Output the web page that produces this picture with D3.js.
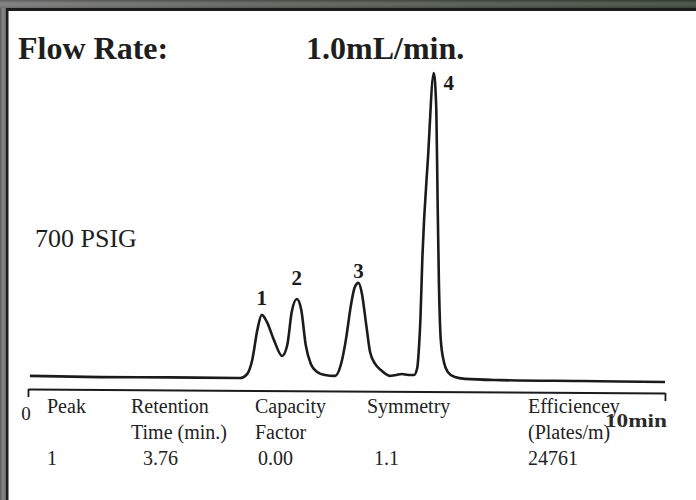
<!DOCTYPE html>
<html>
<head>
<meta charset="utf-8">
<script src="https://cdn.jsdelivr.net/npm/d3@7"></script>
<style>
  html, body { margin: 0; padding: 0; background: #fff; }
  svg { display: block; }
</style>
</head>
<body>
<svg id="chart" width="696" height="500"></svg>
<script>
// ---- data ----
const times  = [0.03, 1.13, 2.23, 3.33, 3.44, 3.52, 3.60, 3.67, 3.75, 3.86, 3.99, 4.07, 4.14, 4.22, 4.29, 4.36, 4.44, 4.54, 4.66, 4.82, 4.93, 4.99, 5.07, 5.13, 5.19, 5.24, 5.31, 5.37, 5.45, 5.54, 5.68, 5.78, 5.87, 5.97, 6.06, 6.11, 6.14, 6.16, 6.19, 6.28, 6.37, 6.41, 6.43, 6.45, 6.48, 6.53, 6.59, 6.70, 6.86, 7.41, 8.67, 10.0];
const signal = [0.7, 0.3, 0.2, 0.0, 1.3, 5.9, 15.7, 20.7, 18.4, 12.5, 7.2, 10.8, 21.6, 25.9, 22.3, 10.8, 4.6, 2.0, 1.0, 0.7, 5.9, 12.5, 23.9, 29.8, 31.2, 27.9, 17.4, 8.5, 4.6, 2.6, 0.7, 1.0, 1.3, 1.0, 1.0, 3.3, 10.8, 19.0, 38.7, 72.5, 100.0, 87.9, 58.4, 32.1, 12.5, 5.2, 2.0, 0.3, -0.3, -0.7, -1.0, -1.3];

const peakNumbers = ["1", "2", "3", "4"];
const peakTimes   = [3.67, 4.22, 5.19, 6.37];
const peakHeights = [20.7, 25.9, 31.2, 100.0];

const axisTicks = [0, 10];
const axisStartLabel = "0";
const axisEndLabel = "10min";

const titleLabel = "Flow Rate:";
const titleValue = "1.0mL/min.";
const pressureLabel = "700 PSIG";

const tableHeaders1 = ["Peak", "Retention", "Capacity", "Symmetry", "Efficiencey"];
const tableHeaders2 = ["", "Time (min.)", "Factor", "", "(Plates/m)"];
const tableValues   = ["1", "3.76", "0.00", "1.1", "24761"];

// ---- layout ----
const svg = d3.select("#chart");
const W = 696, H = 500;

const defs = svg.append("defs");
const gTop = defs.append("linearGradient").attr("id", "gTop").attr("x1", 0).attr("x2", 1).attr("y1", 0).attr("y2", 0);
gTop.append("stop").attr("offset", "0%").attr("stop-color", "#7a7a7a");
gTop.append("stop").attr("offset", "35%").attr("stop-color", "#5e625c");
gTop.append("stop").attr("offset", "100%").attr("stop-color", "#3e4a3b");
const gTopV = defs.append("linearGradient").attr("id", "gTopV").attr("x1", 0).attr("x2", 0).attr("y1", 0).attr("y2", 1);
gTopV.append("stop").attr("offset", "0%").attr("stop-color", "#000").attr("stop-opacity", 0.25);
gTopV.append("stop").attr("offset", "60%").attr("stop-color", "#fff").attr("stop-opacity", 0.08);
gTopV.append("stop").attr("offset", "100%").attr("stop-color", "#000").attr("stop-opacity", 0.1);
const gLeft = defs.append("linearGradient").attr("id", "gLeft").attr("x1", 0).attr("x2", 1).attr("y1", 0).attr("y2", 0);
gLeft.append("stop").attr("offset", "0%").attr("stop-color", "#5a5a5a");
gLeft.append("stop").attr("offset", "50%").attr("stop-color", "#8a8a8a");
gLeft.append("stop").attr("offset", "100%").attr("stop-color", "#666");

svg.append("rect").attr("width", W).attr("height", H).attr("fill", "#fff");
// frame
svg.append("rect").attr("x", 0).attr("y", 0).attr("width", 6).attr("height", H).attr("fill", "url(#gLeft)");
svg.append("rect").attr("x", 0).attr("y", 0).attr("width", W).attr("height", 8).attr("fill", "url(#gTop)");
svg.append("rect").attr("x", 0).attr("y", 0).attr("width", W).attr("height", 8).attr("fill", "url(#gTopV)");
svg.append("rect").attr("x", 6).attr("y", 8).attr("width", W - 6).attr("height", 3).attr("fill", "#1c1c1a");
svg.append("rect").attr("x", 6).attr("y", 8).attr("width", 2.5).attr("height", H - 8).attr("fill", "#1c1c1c");

const x = d3.scaleLinear().domain([0, 10]).range([28, 665]);
const y = d3.scaleLinear().domain([0, 100]).range([378, 73]);

const ink = "#1b1b1b";
const serif = "'Liberation Serif', 'Times New Roman', serif";

// trace
const line = d3.line().x((d, i) => x(times[i])).y((d, i) => y(signal[i])).curve(d3.curveMonotoneX);
svg.append("path")
  .datum(signal)
  .attr("d", line)
  .attr("fill", "none")
  .attr("stroke", ink)
  .attr("stroke-width", 2.6)
  .attr("stroke-linejoin", "round");

// time axis (slightly tilted like the paper record)
const axisG = svg.append("g")
  .attr("transform", `translate(0,389) rotate(0.36, ${x(0)}, 0)`)
  .call(d3.axisBottom(x).tickValues(axisTicks).tickSize(8).tickSizeOuter(0).tickFormat(""));
axisG.select(".domain").attr("stroke", ink).attr("stroke-width", 2);
axisG.selectAll(".tick line").attr("stroke", ink).attr("stroke-width", 1.8);

svg.append("text").attr("x", x(0) - 2).attr("y", 420).attr("text-anchor", "middle")
  .attr("font-family", serif).attr("font-size", 19).attr("fill", ink).text(axisStartLabel);
svg.append("text").attr("x", 605).attr("y", 427)
  .attr("font-family", serif).attr("font-weight", "bold").attr("font-size", 19)
  .attr("textLength", 62).attr("lengthAdjust", "spacingAndGlyphs")
  .attr("fill", "#2a2a2a").text(axisEndLabel);

// peak labels
const labelOffsets = [[0, -10], [0, -14], [0, -5], [15, 17]];
svg.selectAll("text.peak")
  .data(peakNumbers)
  .join("text")
  .attr("class", "peak")
  .attr("x", (d, i) => x(peakTimes[i]) + labelOffsets[i][0])
  .attr("y", (d, i) => y(peakHeights[i]) + labelOffsets[i][1])
  .attr("text-anchor", "middle")
  .attr("font-family", serif).attr("font-weight", "bold").attr("font-size", 21)
  .attr("fill", ink)
  .text(d => d);

// titles
svg.append("text").attr("x", 18).attr("y", 59)
  .attr("font-family", serif).attr("font-weight", "bold").attr("font-size", 32)
  .attr("fill", "#1e1e1e").text(titleLabel);
svg.append("text").attr("x", 306).attr("y", 59)
  .attr("font-family", serif).attr("font-weight", "bold").attr("font-size", 32)
  .attr("fill", "#1e1e1e").text(titleValue);
svg.append("text").attr("x", 35).attr("y", 247)
  .attr("font-family", serif).attr("font-size", 26)
  .attr("fill", "#1e1e1e").text(pressureLabel);

// table
const colX = [47, 131, 255, 367, 528];
const valX = [47, 143, 258, 374, 528];
const tbl = svg.append("g").attr("font-family", serif).attr("font-size", 20).attr("fill", "#222");
tbl.selectAll("text.h1").data(tableHeaders1).join("text").attr("class", "h1")
  .attr("x", (d, i) => colX[i]).attr("y", 413).text(d => d);
tbl.selectAll("text.h2").data(tableHeaders2).join("text").attr("class", "h2")
  .attr("x", (d, i) => colX[i]).attr("y", 439).text(d => d);
tbl.selectAll("text.v").data(tableValues).join("text").attr("class", "v")
  .attr("x", (d, i) => valX[i]).attr("y", 465).text(d => d);
</script>
</body>
</html>
